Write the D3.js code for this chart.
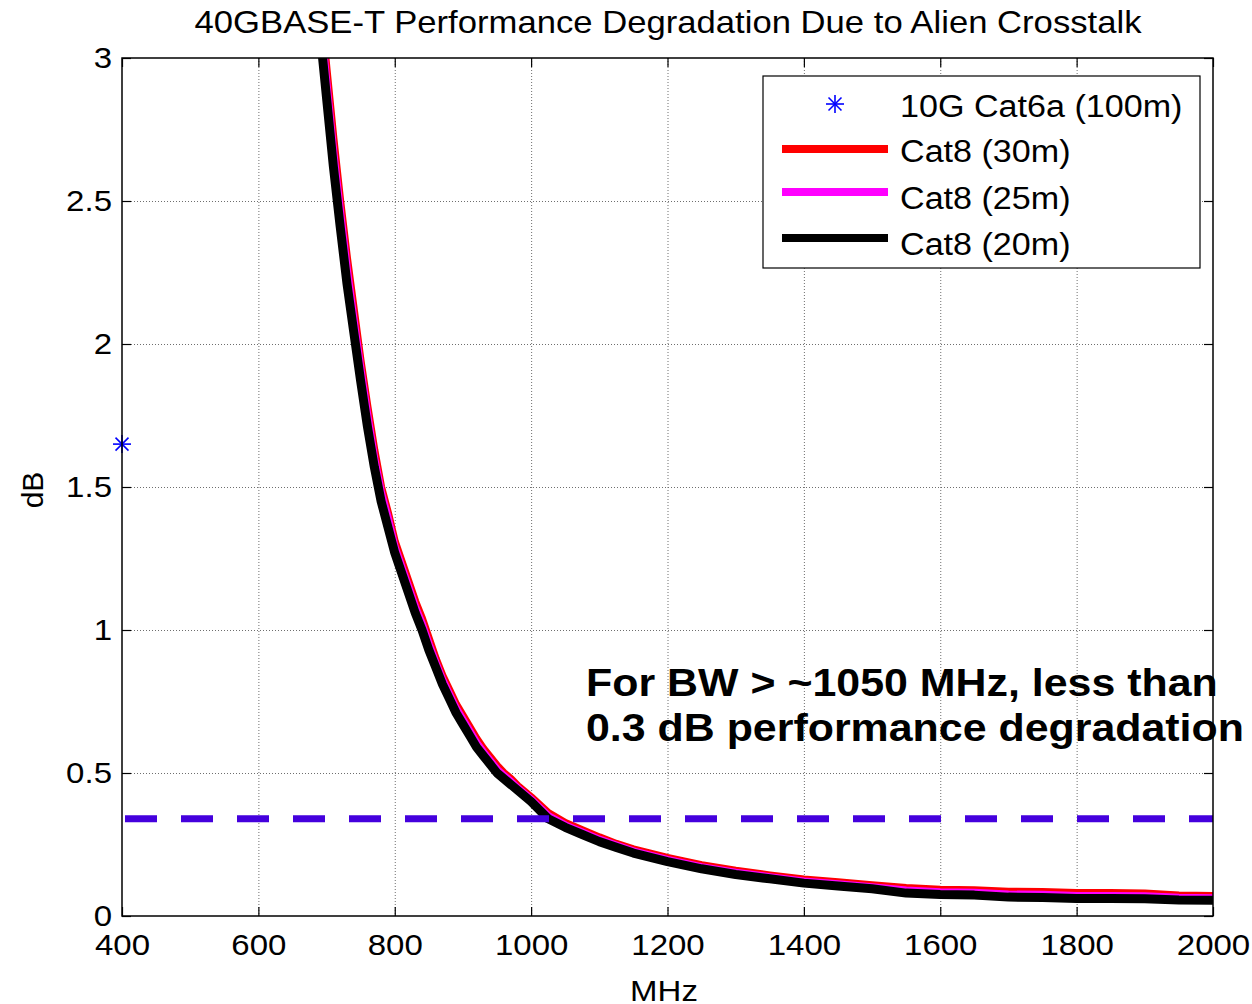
<!DOCTYPE html>
<html><head><meta charset="utf-8">
<script src="https://cdn.jsdelivr.net/npm/d3@7"></script>
<style>body{margin:0;background:#fff}svg{display:block;font-family:"Liberation Sans",Arial,sans-serif}</style>
</head><body><svg id="c" width="1252" height="1004"></svg>
<script>
const title = "40GBASE-T Performance Degradation Due to Alien Crosstalk";
const xTicks = [400,600,800,1000,1200,1400,1600,1800,2000];
const yTicks = [0,0.5,1,1.5,2,2.5,3];
const yTickLabels = ["0","0.5","1","1.5","2","2.5","3"];
const seriesNames = ["10G Cat6a (100m)","Cat8 (30m)","Cat8 (25m)","Cat8 (20m)"];
const cat6aPoint = {mhz:400, db:1.65};
const thresholdDb = 0.34;
const annotation = ["For BW > ~1050 MHz, less than","0.3 dB performance degradation"];
const mhz = [690,700,710,720,730,740,750,760,770,780,790,800,810,820,830,840,850,860,870,880,890,900,910,920,930,940,950,960,970,980,990,1000,
  1025,1050,1075,1100,1125,1150,1175,1200,
  1250,1300,1350,1400,1450,1500,1550,1600,1650,1700,1750,1800,1850,1900,1950,2000];
const cat8_30m = [3.21,2.96,2.72,2.50,2.30,2.12,1.94,1.78,1.63,1.50,1.41,1.31,1.24,1.17,1.10,1.04,0.97,0.90,0.84,0.79,0.74,0.70,0.66,0.62,0.585,0.555,0.525,0.50,0.48,0.455,0.435,0.415,
  0.36,0.325,0.30,0.275,0.252,0.233,0.218,0.203,
  0.178,0.158,0.142,0.128,0.118,0.108,0.098,0.092,0.09,0.085,0.084,0.08,0.08,0.079,0.072,0.07];
const cat8_25m = [3.16,2.91,2.67,2.46,2.26,2.08,1.91,1.75,1.60,1.48,1.39,1.29,1.22,1.15,1.08,1.02,0.95,0.885,0.825,0.775,0.725,0.685,0.645,0.605,0.572,0.542,0.512,0.49,0.47,0.447,0.427,0.407,
  0.35,0.317,0.292,0.267,0.246,0.226,0.211,0.196,
  0.171,0.151,0.136,0.121,0.111,0.101,0.089,0.083,0.081,0.075,0.074,0.07,0.07,0.069,0.064,0.062];
const cat8_20m = [3.10,2.86,2.62,2.41,2.21,2.04,1.87,1.71,1.57,1.45,1.36,1.27,1.20,1.13,1.06,1.00,0.93,0.87,0.81,0.76,0.71,0.67,0.63,0.59,0.56,0.53,0.50,0.48,0.46,0.44,0.42,0.40,
  0.34,0.31,0.285,0.26,0.24,0.22,0.205,0.19,
  0.165,0.145,0.13,0.115,0.105,0.095,0.08,0.075,0.073,0.066,0.065,0.061,0.061,0.06,0.056,0.055];

const svg = d3.select("#c");
const L=122, R=1213, T=58, B=916;
const x = d3.scaleLinear().domain([400,2000]).range([L,R]);
const y = d3.scaleLinear().domain([0,3]).range([B,T]);
const SX = 1.1;
function stretch(sel){ sel.each(function(){ const l=this.getComputedTextLength(); this.setAttribute("textLength", l*SX); this.setAttribute("lengthAdjust","spacingAndGlyphs"); }); }

svg.append("rect").attr("width",1252).attr("height",1004).attr("fill","#fff");
svg.append("defs").append("clipPath").attr("id","clip").append("rect")
  .attr("x",L).attr("y",T).attr("width",R-L).attr("height",B-T);

// grid
const grid = svg.append("g").attr("stroke","#6e6e6e").attr("stroke-width",1).attr("stroke-dasharray","1,2");
grid.selectAll(".gx").data(xTicks.slice(1,-1)).join("line").attr("x1",d=>x(d)+0.5).attr("x2",d=>x(d)+0.5).attr("y1",T).attr("y2",B);
grid.selectAll(".gy").data(yTicks.slice(1,-1)).join("line").attr("y1",d=>y(d)+0.5).attr("y2",d=>y(d)+0.5).attr("x1",L).attr("x2",R);

// axes with inner ticks
const ax = svg.append("g");
ax.append("g").attr("transform",`translate(0,${B})`).call(d3.axisBottom(x).tickValues(xTicks).tickSize(-9).tickPadding(18).tickFormat(d3.format("d")))
  .call(g=>{g.select(".domain").remove(); g.selectAll("text").attr("font-size",30).attr("fill","#000").attr("dy","0.71em");});
ax.append("g").attr("transform",`translate(0,${T})`).call(d3.axisTop(x).tickValues(xTicks).tickSize(-9).tickFormat(""))
  .call(g=>g.select(".domain").remove());
ax.append("g").attr("transform",`translate(${L},0)`).call(d3.axisLeft(y).tickValues(yTicks).tickSize(-9).tickPadding(10).tickFormat((d,i)=>yTickLabels[i]))
  .call(g=>{g.select(".domain").remove(); g.selectAll("text").attr("font-size",30).attr("fill","#000");});
ax.append("g").attr("transform",`translate(${R},0)`).call(d3.axisRight(y).tickValues(yTicks).tickSize(-9).tickFormat(""))
  .call(g=>g.select(".domain").remove());
ax.selectAll(".tick line").attr("stroke","#000").attr("stroke-width",1.2);
stretch(ax.selectAll("text"));

// curves
const line = d3.line().x((d,i)=>x(mhz[i])).y(d=>y(d));
const plot = svg.append("g").attr("clip-path","url(#clip)");
const curves = [[cat8_30m,"#ff0000",8],[cat8_25m,"#ff00ff",8],[cat8_20m,"#000000",9]];
curves.forEach(([vals,col,w])=>{
  plot.append("path").attr("d",line(vals)).attr("fill","none").attr("stroke",col).attr("stroke-width",w).attr("stroke-linejoin","round");
});
// threshold dashed line
plot.append("line").attr("x1",x(400)).attr("x2",x(2000)).attr("y1",y(thresholdDb)).attr("y2",y(thresholdDb))
  .attr("stroke","#4400dd").attr("stroke-width",7).attr("stroke-dasharray","32,24").attr("stroke-dashoffset",-3);

// star marker
function star(g,cx,cy,r){
  const s=g.append("g").attr("stroke","#0000ff").attr("stroke-width",1.6);
  s.append("line").attr("x1",cx-r).attr("x2",cx+r).attr("y1",cy).attr("y2",cy);
  s.append("line").attr("x1",cx).attr("x2",cx).attr("y1",cy-r).attr("y2",cy+r);
  const k=r*0.72;
  s.append("line").attr("x1",cx-k).attr("x2",cx+k).attr("y1",cy-k).attr("y2",cy+k);
  s.append("line").attr("x1",cx-k).attr("x2",cx+k).attr("y1",cy+k).attr("y2",cy-k);
}
star(svg, x(cat6aPoint.mhz), y(cat6aPoint.db), 9);

// frame
svg.append("rect").attr("x",L).attr("y",T).attr("width",R-L).attr("height",B-T).attr("fill","none").attr("stroke","#000").attr("stroke-width",1.5);

// annotation
const ann = svg.append("g").attr("font-weight","bold").attr("font-size",39).attr("fill","#000");
ann.selectAll("text").data(annotation).join("text").attr("x",586).attr("y",(d,i)=>696+i*45).text(d=>d);
stretch(ann.selectAll("text"));

// legend
const lg = svg.append("g");
lg.append("rect").attr("x",763).attr("y",76).attr("width",437).attr("height",192).attr("fill","#fff").attr("stroke","#000").attr("stroke-width",1.2);
star(lg, 835, 104, 9);
const legCols = ["#ff0000","#ff00ff","#000000"];
const legY = [149,192,238];
legCols.forEach((c,i)=>lg.append("line").attr("x1",782).attr("x2",888).attr("y1",legY[i]).attr("y2",legY[i]).attr("stroke",c).attr("stroke-width",8));
const legTextY = [117,162,209,255];
lg.selectAll("text").data(seriesNames).join("text").attr("x",900).attr("y",(d,i)=>legTextY[i]).attr("font-size",31).text(d=>d);
stretch(lg.selectAll("text"));

// title & axis labels
const tt = svg.append("text").attr("x",668).attr("y",33).attr("text-anchor","middle").attr("font-size",31.5).text(title);
stretch(tt);
const xl = svg.append("text").attr("x",664).attr("y",1001).attr("text-anchor","middle").attr("font-size",30).text("MHz");
stretch(xl);
const yl = svg.append("text").attr("transform","translate(43,490) rotate(-90)").attr("text-anchor","middle").attr("font-size",30).text("dB");
</script></body></html>
